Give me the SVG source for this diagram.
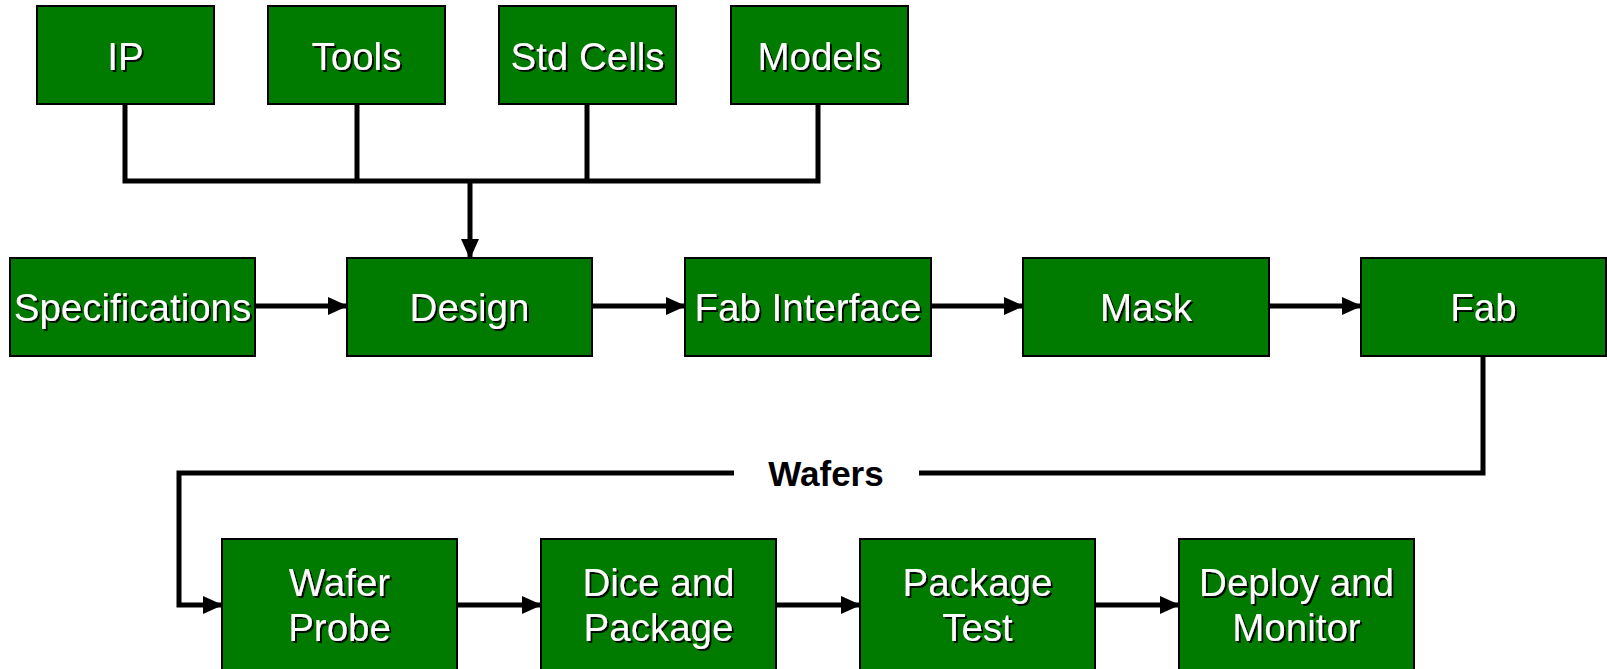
<svg xmlns="http://www.w3.org/2000/svg" width="1607" height="669" viewBox="0 0 1607 669">
<style>
.box{fill:#007b00;stroke:#000;stroke-width:2}
.lbl{font-family:"Liberation Sans",Arial,sans-serif;font-size:38.5px;fill:#fff;text-anchor:middle;filter:url(#sh)}
.ln{fill:none;stroke:#000;stroke-width:5}
.arr{fill:none;stroke:#000;stroke-width:5;marker-end:url(#ah)}
.wf{font-family:"Liberation Sans",Arial,sans-serif;font-size:35px;font-weight:bold;fill:#000;text-anchor:middle}
</style>
<defs>
<filter id="sh" x="-10%" y="-20%" width="130%" height="150%">
<feDropShadow dx="2" dy="2" stdDeviation="0.3" flood-color="#000" flood-opacity="0.9"/>
</filter>
<marker id="ah" viewBox="0 0 20 18" refX="19" refY="9" markerWidth="20" markerHeight="18" orient="auto" markerUnits="userSpaceOnUse">
<path d="M0,0 L20,9 L0,18 z" fill="#000"/>
</marker>
</defs>
<rect width="1607" height="669" fill="#fff"/>
<g id="connectors">
<path class="ln" d="M125,104 V181 H818 V104"/>
<path class="ln" d="M357,104 V181"/>
<path class="ln" d="M587,104 V181"/>
<path class="arr" d="M470,181 V258"/>
<path class="arr" d="M255,306 H347"/>
<path class="arr" d="M592,306 H685"/>
<path class="arr" d="M931,306 H1023"/>
<path class="arr" d="M1269,306 H1361"/>
<path class="ln" d="M1483,356 V473 H919"/>
<path class="arr" d="M734,473 H179 V605 H222"/>
<text class="wf" x="826" y="486">Wafers</text>
<path class="arr" d="M457,605 H541"/>
<path class="arr" d="M776,605 H860"/>
<path class="arr" d="M1095,605 H1179"/>
</g>
<g id="ip"><rect class="box" x="37" y="6" width="177" height="98"/><text class="lbl" x="125.5" y="70">IP</text></g>
<g id="tools"><rect class="box" x="268" y="6" width="177" height="98"/><text class="lbl" x="356.5" y="70">Tools</text></g>
<g id="stdcells"><rect class="box" x="499" y="6" width="177" height="98"/><text class="lbl" x="587.5" y="70">Std Cells</text></g>
<g id="models"><rect class="box" x="731" y="6" width="177" height="98"/><text class="lbl" x="819.5" y="70">Models</text></g>
<g id="specifications"><rect class="box" x="10" y="258" width="245" height="98"/><text class="lbl" x="132.5" y="321">Specifications</text></g>
<g id="design"><rect class="box" x="347" y="258" width="245" height="98"/><text class="lbl" x="469.5" y="321">Design</text></g>
<g id="fabinterface"><rect class="box" x="685" y="258" width="246" height="98"/><text class="lbl" x="808" y="321">Fab Interface</text></g>
<g id="mask"><rect class="box" x="1023" y="258" width="246" height="98"/><text class="lbl" x="1146" y="321">Mask</text></g>
<g id="fab"><rect class="box" x="1361" y="258" width="245" height="98"/><text class="lbl" x="1483.5" y="321">Fab</text></g>
<g id="waferprobe"><rect class="box" x="222" y="539" width="235" height="140"/><text class="lbl" x="339.5" y="596">Wafer</text><text class="lbl" x="339.5" y="641">Probe</text></g>
<g id="dicepackage"><rect class="box" x="541" y="539" width="235" height="140"/><text class="lbl" x="658.5" y="596">Dice and</text><text class="lbl" x="658.5" y="641">Package</text></g>
<g id="packagetest"><rect class="box" x="860" y="539" width="235" height="140"/><text class="lbl" x="977.5" y="596">Package</text><text class="lbl" x="977.5" y="641">Test</text></g>
<g id="deploymonitor"><rect class="box" x="1179" y="539" width="235" height="140"/><text class="lbl" x="1296.5" y="596">Deploy and</text><text class="lbl" x="1296.5" y="641">Monitor</text></g>
</svg>
